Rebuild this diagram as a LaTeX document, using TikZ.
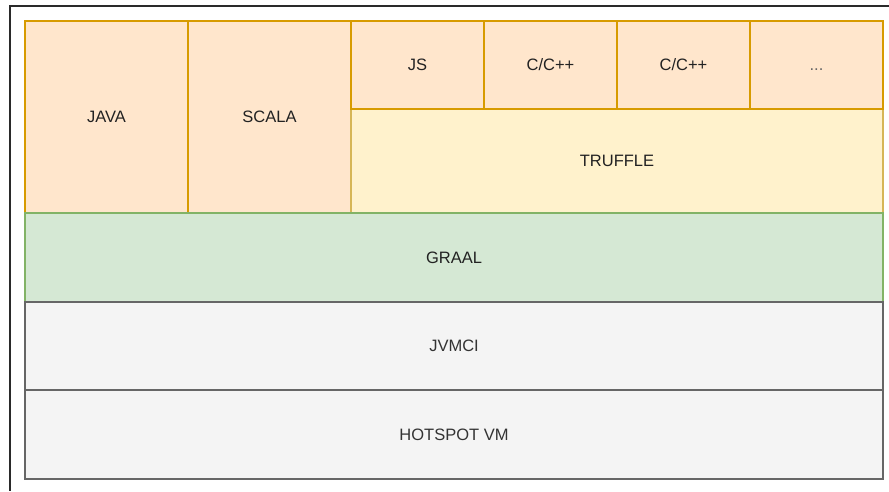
\documentclass[tikz,border=0pt]{standalone}
\usepackage{fontspec}
\setmainfont{Liberation Sans}
\definecolor{orFill}{HTML}{FFE6CC}
\definecolor{orLine}{HTML}{D79B00}
\definecolor{yeFill}{HTML}{FFF2CC}
\definecolor{yeLine}{HTML}{D6B656}
\definecolor{grFill}{HTML}{D5E8D4}
\definecolor{grLine}{HTML}{82B366}
\definecolor{gyFill}{HTML}{F4F4F4}
\definecolor{gyLine}{HTML}{666666}
\definecolor{txtDark}{HTML}{222222}
\definecolor{txtGray}{HTML}{333333}
\definecolor{frameLine}{HTML}{2A2A2A}
\tikzset{
  cell/.style={rectangle, anchor=north west, inner sep=0pt, outer sep=0pt,
    line width=1.3pt, font=\fontsize{16.5}{19}\selectfont, text=txtDark},
  orangecell/.style={cell, fill=orFill, draw=orLine},
  yellowcell/.style={cell, fill=yeFill, draw=yeLine},
  greencell/.style={cell, fill=grFill, draw=grLine},
  graycell/.style={cell, fill=gyFill, draw=gyLine, text=txtGray},
}
\begin{document}
\begin{tikzpicture}[x=1pt,y=-1pt]
\useasboundingbox (0,0) rectangle (889,491);
\fill[white] (0,0) rectangle (889,491);
% frame lines (top and left)
\coordinate (ftr) at (889,5.7);
\coordinate (ftl) at (10,5.7);
\coordinate (fbl) at (10,491);
\draw[frameLine, line width=2pt] (ftr) -- (ftl) -- (fbl);
% top row
\node[orangecell, minimum width=163pt, minimum height=192pt] (java) at (25,21) {JAVA};
\node[orangecell, minimum width=163pt, minimum height=192pt] (scala) at (188,21) {SCALA};
\node[yellowcell, minimum width=532pt, minimum height=104pt] (truffle) at (351,109) {TRUFFLE};
\node[orangecell, minimum width=133pt, minimum height=88pt] (js) at (351,21) {JS};
\node[orangecell, minimum width=133pt, minimum height=88pt] (cpp1) at (484,21) {C/C++};
\node[orangecell, minimum width=133pt, minimum height=88pt] (cpp2) at (617,21) {C/C++};
\node[orangecell, minimum width=133pt, minimum height=88pt, text=gyLine] (more) at (750,21) {\vphantom{A}...};
% lower layers
\node[greencell, minimum width=858pt, minimum height=89pt] (graal) at (25,213) {GRAAL};
\node[graycell, minimum width=858pt, minimum height=88pt] (jvmci) at (25,302) {JVMCI};
\node[graycell, minimum width=858pt, minimum height=89pt] (hotspot) at (25,390) {HOTSPOT VM};
\end{tikzpicture}
\end{document}
